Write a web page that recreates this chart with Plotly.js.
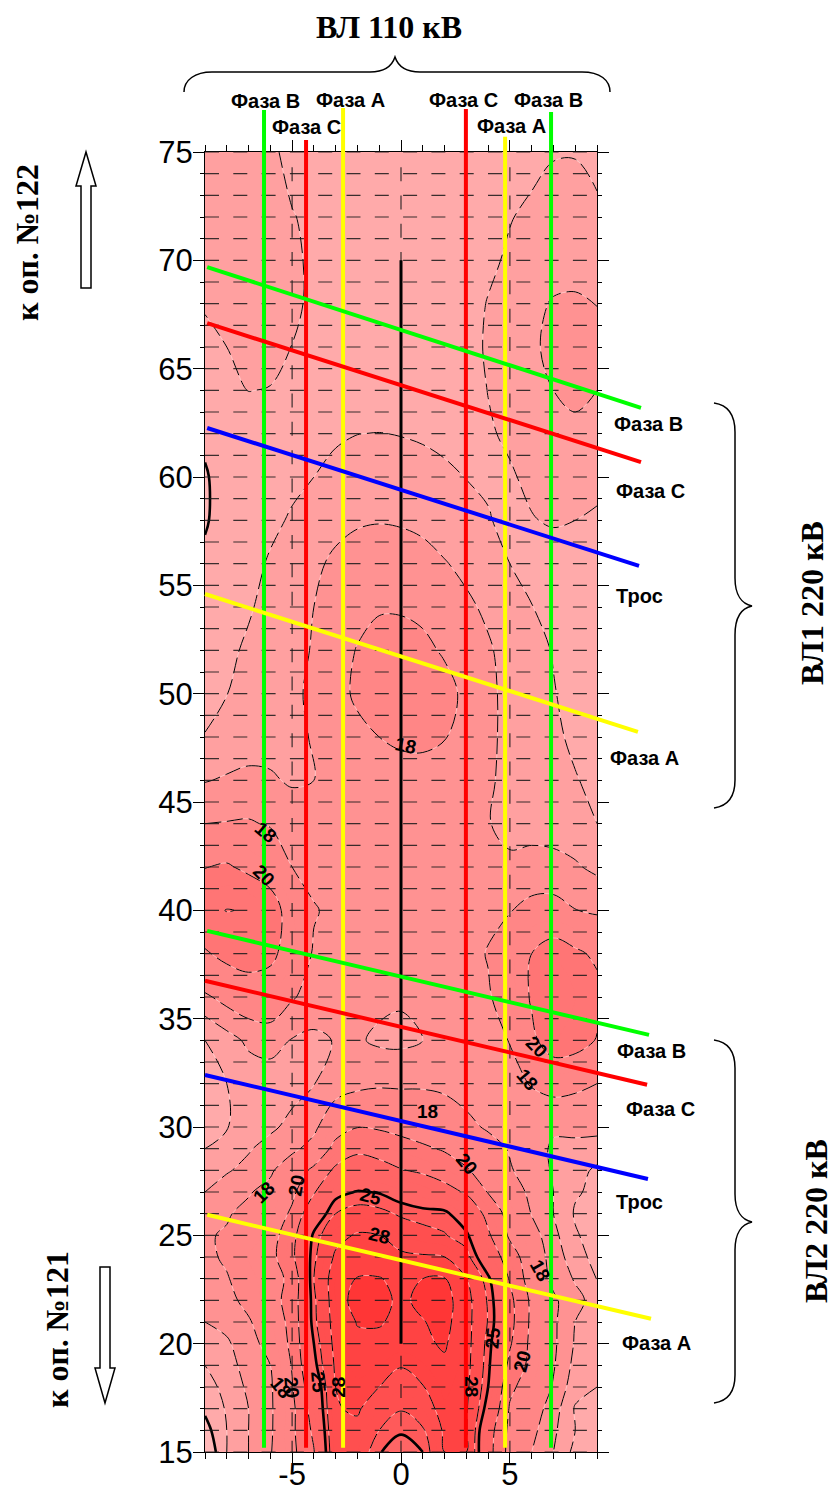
<!DOCTYPE html>
<html><head><meta charset="utf-8">
<script src="https://cdn.plot.ly/plotly-3.0.1.min.js"></script>
<style>html,body{margin:0;padding:0;background:#fff}#c{width:833px;height:1488px}</style>
</head><body><div id="c"></div>
<script>
const xGrid=[-9,-8,-7,-6,-5,-4,-3,-2,-1,0,1,2,3,4,5,6,7,8,9];
const yGrid=[15,16,17,18,19,20,21,22,23,24,25,26,27,28,29,30,32,34,36,38,40,42,44,46,48,50,52,54,56,58,60,62,64,66,68,70,72,75];
const zValues=[
[14.0,16.0,17.0,17.9,19.5,21.9,27.5,27.0,25.1,24.2,25.0,28.0,28.0,22.8,19.3,18.0,17.0,15.7,15.4],
[14.6,16.0,17.0,17.8,19.6,22.4,27.7,27.6,26.0,25.2,25.8,28.3,28.1,23.0,19.5,18.3,17.2,16.0,15.5],
[15.2,16.1,17.0,17.8,19.5,23.0,27.9,28.2,27.0,26.1,27.0,28.8,28.2,24.3,19.8,18.6,17.5,15.9,15.7],
[15.6,16.3,17.2,17.8,19.9,23.5,28.0,28.8,28.0,27.2,27.9,29.3,28.4,25.0,20.4,19.0,17.9,16.4,16.0],
[16.0,16.6,17.4,18.0,20.1,24.5,28.3,29.3,29.0,28.1,28.9,29.7,28.6,25.3,21.5,19.4,18.1,16.7,16.3],
[16.5,16.85,17.6,18.4,20.4,25.0,28.6,29.6,29.7,29.6,29.7,30.2,28.7,25.5,22.2,19.5,18.2,16.9,16.6],
[17.0,17.3,17.85,18.9,20.5,25.6,28.8,30.1,30.1,29.7,29.9,30.6,28.7,25.9,22.6,19.6,18.2,17.0,16.9],
[17.2,17.6,18.4,19.4,20.6,25.7,29.0,30.8,30.6,29.6,30.5,30.8,28.7,25.8,22.5,19.6,18.2,17.3,16.6],
[17.5,17.9,18.7,19.5,20.3,26.0,29.0,30.1,30.1,29.5,30.0,30.1,28.0,25.3,21.8,19.0,17.7,16.9,15.95],
[17.7,18.2,19.0,19.4,21.5,25.7,28.3,29.0,28.9,28.4,28.2,28.0,26.5,23.5,20.9,18.9,17.5,16.5,15.6],
[17.9,18.1,18.5,19.2,21.2,25.3,27.4,28.2,28.0,27.0,26.5,26.1,25.3,22.3,19.7,18.5,17.3,16.1,15.6],
[17.5,17.9,18.3,18.8,20.3,23.7,26.0,26.6,26.4,25.8,25.5,25.4,23.7,21.4,19.3,17.95,17.0,15.9,15.6],
[17.0,17.5,17.9,18.4,19.6,21.8,24.5,25.1,24.9,24.2,23.5,22.7,21.8,19.9,18.7,17.7,17.0,16.1,15.8],
[16.5,16.9,17.3,17.8,18.9,20.4,22.4,23.1,22.8,22.1,21.7,21.1,20.2,19.0,18.1,17.5,16.9,16.2,15.9],
[16.0,16.3,16.9,17.4,17.7,18.5,20.6,21.6,21.2,20.8,20.3,19.8,19.0,18.5,17.9,17.3,16.9,16.7,16.3],
[15.7,15.95,16.5,16.8,17.3,17.7,19.2,19.95,19.8,19.4,19.0,18.6,18.3,17.85,17.5,17.0,17.1,17.3,17.5],
[15.6,16.0,16.4,16.6,16.6,16.98,17.3,17.6,17.8,17.8,17.85,17.8,17.5,17.05,17.5,18.1,18.4,18.2,18.0],
[16.0,16.6,17.2,17.3,16.95,16.8,17.05,17.1,16.85,16.8,17.0,17.2,17.3,17.6,18.05,19.6,21.0,20.8,19.9],
[17.8,18.4,18.8,19.0,18.1,17.6,17.4,17.3,17.2,17.1,17.2,17.3,17.5,17.9,18.5,20.2,21.7,21.0,20.5],
[19.8,20.5,20.9,20.4,19.2,17.85,17.6,17.5,17.4,17.4,17.4,17.5,17.7,18.05,18.6,20.0,20.9,20.3,19.7],
[21.5,22.05,21.9,21.0,19.0,18.1,17.7,17.6,17.55,17.5,17.5,17.5,17.6,17.8,17.95,18.35,18.4,18.03,17.8],
[19.95,20.2,19.6,19.0,18.0,17.6,17.5,17.5,17.5,17.5,17.5,17.5,17.5,17.25,17.2,17.3,17.3,17.1,16.8],
[18.0,18.05,18.1,17.9,17.5,17.3,17.4,17.45,17.5,17.5,17.5,17.5,17.4,17.05,16.7,16.7,16.6,16.5,16.0],
[16.95,17.1,17.2,17.1,16.9,17.0,17.3,17.45,17.5,17.55,17.55,17.5,17.4,17.1,16.8,16.5,16.3,16.05,15.8],
[16.05,16.4,16.6,16.7,16.85,17.05,17.4,17.7,18.0,18.2,18.25,18.05,17.6,17.15,16.8,16.5,16.15,15.85,15.6],
[15.6,15.98,16.4,16.7,16.9,17.1,17.6,18.2,18.6,18.7,18.6,18.3,17.8,17.15,16.8,16.4,16.05,15.7,15.5],
[15.5,15.8,16.15,16.5,16.8,17.05,17.6,18.05,18.4,18.4,18.2,17.9,17.6,17.1,16.7,16.3,15.95,15.7,15.5],
[15.4,15.6,15.9,16.3,16.6,17.0,17.4,17.7,17.9,17.9,17.8,17.4,17.15,16.85,16.4,16.02,15.8,15.6,15.5],
[15.2,15.4,15.7,16.1,16.4,16.8,17.2,17.4,17.55,17.5,17.3,17.05,16.8,16.4,16.0,15.7,15.5,15.4,15.4],
[14.9,15.45,15.6,15.8,16.1,16.4,16.7,16.9,16.95,16.9,16.8,16.6,16.3,16.05,15.8,15.95,16.1,16.0,15.9],
[14.9,15.45,15.6,15.7,15.8,16.0,16.2,16.4,16.45,16.4,16.3,16.15,15.98,15.9,15.9,16.2,16.3,16.3,16.2],
[15.2,15.3,15.4,15.5,15.7,15.85,15.9,15.99,16.02,15.97,15.9,15.8,15.8,15.9,16.15,16.4,16.6,16.8,16.7],
[15.4,15.7,16.02,15.95,15.6,15.4,15.3,15.3,15.3,15.3,15.3,15.4,15.6,16.02,16.3,16.6,17.0,17.2,17.0],
[15.7,16.0,16.3,16.4,15.98,15.7,15.4,15.3,15.3,15.2,15.3,15.4,15.7,16.1,16.4,16.8,17.3,17.4,17.3],
[16.1,16.4,16.6,16.5,16.2,15.8,15.5,15.4,15.3,15.3,15.3,15.4,15.6,16.05,16.4,16.7,17.1,17.15,16.98],
[16.3,16.5,16.6,16.5,16.2,15.8,15.5,15.3,15.2,15.2,15.3,15.4,15.5,15.8,16.15,16.4,16.5,16.6,16.5],
[16.5,16.5,16.5,16.4,16.05,15.8,15.5,15.3,15.2,15.2,15.3,15.4,15.5,15.7,15.95,16.2,16.3,16.4,16.2],
[16.4,16.4,16.4,16.2,15.7,15.4,15.3,15.2,15.2,15.2,15.2,15.2,15.3,15.4,15.5,15.7,15.95,15.95,15.7]
];
const levels=[15,16,17,18,20,22,25,26,28,30];
const thickLevels=[15,25];
const bandColors=['#FFB8B8','#FFAAAA','#FFA0A0','#FF9292','#FF8686','#FF7575','#FF6565','#FF5A5A','#FF4F4F','#FF4343','#FF3636'];
const xTicks=[-5,0,5], xTickText=['-5','0','5'];
const yTicks=[15,20,25,30,35,40,45,50,55,60,65,70,75];
const vLines=[
 {x:-6.29,top:76.94,c:'#00FF00'},{x:-4.36,top:75.55,c:'#FF0000'},{x:-2.66,top:77.03,c:'#FFFF00'},
 {x:2.98,top:76.98,c:'#FF0000'},{x:4.78,top:75.7,c:'#FFFF00'},{x:6.89,top:76.85,c:'#00FF00'}];
const slopedLines=[
 {x:[-8.9,11.02],y:[69.69,63.19],c:'#00FF00'},{x:[-8.9,11.02],y:[67.1,60.69],c:'#FF0000'},
 {x:[-8.9,10.93],y:[62.26,55.9],c:'#0000FF'},{x:[-9,10.88],y:[54.6,48.24],c:'#FFFF00'},
 {x:[-8.9,11.39],y:[39.05,34.25],c:'#00FF00'},{x:[-9,11.3],y:[36.75,31.95],c:'#FF0000'},
 {x:[-9,11.34],y:[32.4,27.6],c:'#0000FF'},{x:[-8.9,11.48],y:[25.95,21.15],c:'#FFFF00'}];
const contourLabels=[
 ['18',0.2,47.6,12],['18',-6.2,43.6,40],['20',-6.3,41.6,45],['20',6.2,33.7,45],['18',5.8,32.2,50],
 ['18',1.2,30.7,0],['20',3,28.3,50],['25',-1.4,26.8,15],['28',-1,25,15],['18',-6.3,27,-45],
 ['20',-4.8,27.3,-80],['18',6.4,23.4,60],['25',4.2,20.3,-85],['20',5.55,19.2,-75],['18',-5.5,18,50],
 ['20',-5,18,85],['25',-3.8,18.2,85],['28',-2.9,18,-90],['28',3.25,18,90]];
const phaseLabels=[
 ['Фаза В',265,101],['Фаза А',350,100],['Фаза С',306,127],['Фаза С',463,100],['Фаза В',548,100],['Фаза А',511,126],
 ['Фаза В',648,424],['Фаза С',650,491],['Трос',639,596],['Фаза А',644,758],
 ['Фаза В',651,1051],['Фаза С',660,1109],['Трос',639,1202],['Фаза А',656,1343]];
const serifLabels=[['ВЛ 110 кВ',389,27,0],['к оп. №122',27,243,-90],['к оп. №121',57,1330,-90],['ВЛ1 220 кВ',812,603,-90],['ВЛ2 220 кВ',816,1221,-90]];

const W=833,H=1488,L=205,R=597,T=152,B=1452;
const px=v=>v/W, py=v=>1-v/H;
const pth=(cmds)=>cmds.map(c=>c[0]+' '+c.slice(1).map((v,i)=>i%2?py(v):px(v)).join(' ')).join(' ');

// stepped colour scale: Plotly maps contour fill over [start-size/2, end+size/2]
const cutLo=14.5,cutHi=30.5,cuts=[15,16,17,18,20,22,25,26,28,30];
let scale=[];
bandColors.forEach((c,i)=>{
  const a=i==0?0:(cuts[i-1]-cutLo)/(cutHi-cutLo), b=i==bandColors.length-1?1:(cuts[i]-cutLo)/(cutHi-cutLo);
  scale.push([a,c],[b,c]);
});

const traces=[];
traces.push({type:'contour',x:xGrid,y:yGrid,z:zValues,autocontour:false,
 contours:{start:15,end:30,size:1,coloring:'fill',showlines:false},
 colorscale:scale,showscale:false,line:{width:0,smoothing:1},hoverinfo:'skip'});
levels.forEach(l=>{
  traces.push({type:'contour',x:xGrid,y:yGrid,z:zValues,autocontour:false,showscale:false,hoverinfo:'skip',
   contours:{start:l,end:l,size:1,coloring:'none'},line:{color:'rgba(255,225,225,0.75)',width:0.8,smoothing:1}});
  const thick=thickLevels.includes(l);
  traces.push({type:'contour',x:xGrid,y:yGrid,z:zValues,autocontour:false,showscale:false,hoverinfo:'skip',
   contours:{start:l,end:l,size:1,coloring:'none'},
   line:thick?{color:'#000',width:2.6,smoothing:1,dash:'solid'}:{color:'#000',width:1,smoothing:1,dash:'16px,6px'}});
});
const over={xaxis:'x2',yaxis:'y2',hoverinfo:'skip',type:'scatter',mode:'lines'};
const gridLine={color:'rgba(25,25,25,0.85)',width:1.2,dash:'14px,14.3px'};
let gx=[],gy=[];
for(let v=15;v<=75;v++){gx.push(-9,9,null);gy.push(v,v,null);}
traces.push(Object.assign({},over,{x:gx,y:gy,line:gridLine}));
let vx=[],vy=[];
xTicks.forEach(v=>{vx.push(v,v,null);vy.push(74.3,15,null);});
traces.push(Object.assign({},over,{x:vx,y:vy,line:gridLine}));
vLines.forEach(s=>traces.push(Object.assign({},over,{x:[s.x,s.x],y:[15.2,s.top],line:{color:s.c,width:4}})));
traces.push(Object.assign({},over,{x:[0,0],y:[20,70],line:{color:'#000',width:3}}));
slopedLines.forEach(s=>traces.push(Object.assign({},over,{x:s.x,y:s.y,line:{color:s.c,width:4}})));

const annotations=[];
contourLabels.forEach(a=>annotations.push({x:a[1],y:a[2],xref:'x',yref:'y',text:'<b>'+a[0]+'</b>',textangle:a[3],showarrow:false,
 font:{family:'Liberation Sans',size:19,color:'#000'},xanchor:'center',yanchor:'middle'}));
phaseLabels.forEach(a=>annotations.push({x:px(a[1]),y:py(a[2]),xref:'paper',yref:'paper',text:'<b>'+a[0]+'</b>',showarrow:false,
 font:{family:'Liberation Sans',size:20,color:'#000'},xanchor:'center',yanchor:'middle'}));
serifLabels.forEach(a=>annotations.push({x:px(a[1]),y:py(a[2]),xref:'paper',yref:'paper',text:'<b>'+a[0]+'</b>',textangle:a[3],showarrow:false,
 font:{family:'Liberation Serif',size:32,color:'#000'},xanchor:'center',yanchor:'middle'}));

const lineStyle={color:'#000',width:1.5};
const shapes=[
 {path:pth([['M',184,92],['C',184,80,195,72,212,72],['L',370,72],['C',385,72,392,66,395,57],['C',398,66,405,72,420,72],['L',582,72],['C',600,72,610,80,610,92]])},
 {path:pth([['M',714,403],['C',728,405,735,415,735,432],['L',735,578],['C',735,595,742,604,752,606],['C',742,608,735,617,735,635],['L',735,780],['C',735,797,728,806,714,808]])},
 {path:pth([['M',714,1040],['C',728,1042,735,1052,735,1068],['L',735,1194],['C',735,1211,742,1220,752,1222],['C',742,1224,735,1233,735,1250],['L',735,1375],['C',735,1392,728,1401,714,1403]])},
 {path:pth([['M',86,152],['L',96,186],['L',91,186],['L',91,288],['L',81,288],['L',81,186],['L',76,186],['Z']])},
 {path:pth([['M',105,1403],['L',95,1368],['L',100,1368],['L',100,1267],['L',110,1267],['L',110,1368],['L',115,1368],['Z']])}
].map(s=>Object.assign(s,{type:'path',xref:'paper',yref:'paper',line:lineStyle,fillcolor:'rgba(255,255,255,0)'}));

const axisBase={showline:true,linecolor:'#000',linewidth:1,mirror:'ticks',ticks:'outside',ticklen:11,tickwidth:1,tickcolor:'#000',
 showgrid:false,zeroline:false,tickfont:{family:'Liberation Sans',size:31,color:'#000'},layer:'above traces',automargin:false};
const unitX=(R-L)/18, unitY=(B-T)/60;
const layout={width:W,height:H,margin:{l:0,r:0,t:0,b:0,pad:0},paper_bgcolor:'#fff',plot_bgcolor:'rgba(0,0,0,0)',showlegend:false,
 xaxis:Object.assign({},axisBase,{domain:[L/W,R/W],anchor:'y',range:[-9,9],tickmode:'array',tickvals:xTicks,ticktext:xTickText,ticklabelstandoff:-16,
   minor:{dtick:1,tick0:0,ticks:'outside',ticklen:6,tickwidth:1,tickcolor:'#000',showgrid:false}}),
 yaxis:Object.assign({},axisBase,{domain:[1-B/H,1-T/H],anchor:'x',range:[15,75],tickmode:'array',tickvals:yTicks,ticktext:yTicks.map(String),ticklabelstandoff:-6,
   minor:{dtick:1,tick0:0,ticks:'outside',ticklen:4,tickwidth:1,tickcolor:'#000',showgrid:false}}),
 xaxis2:{domain:[0,1],anchor:'y2',visible:false,range:[-9-L/unitX,9+(W-R)/unitX]},
 yaxis2:{domain:[0,1],anchor:'x2',visible:false,range:[15-(H-B)/unitY,75+T/unitY]},
 annotations,shapes};
Plotly.newPlot('c',traces,layout,{staticPlot:true,displayModeBar:false});
</script></body></html>
